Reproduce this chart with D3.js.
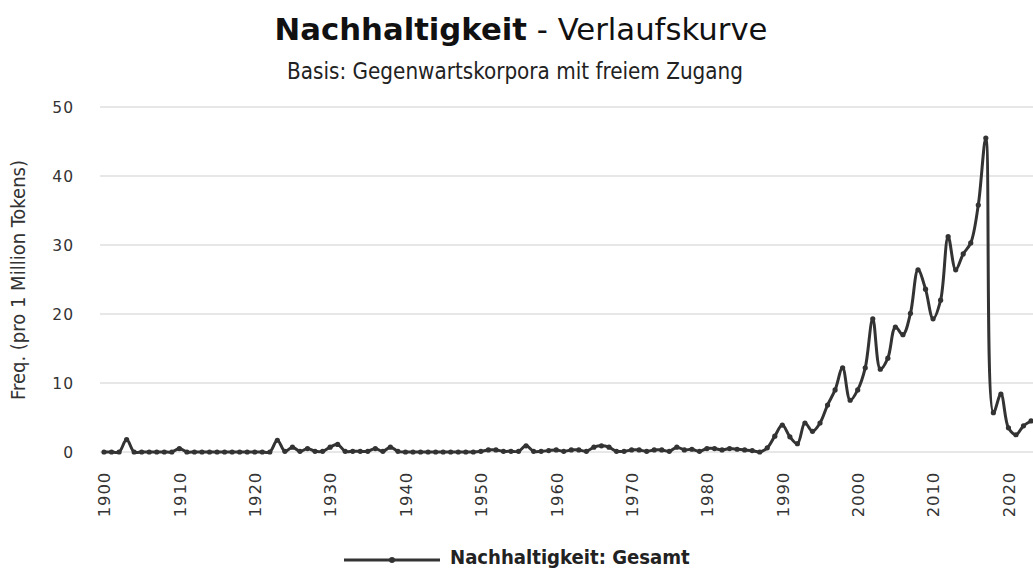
<!DOCTYPE html>
<html><head><meta charset="utf-8">
<script src="https://cdn.jsdelivr.net/npm/d3@7"></script>
<style>body{margin:0;background:#fff}svg{display:block}</style>
</head><body>
<svg id="c" width="1033" height="569"></svg>
<script>
const years = d3.range(1900, 2024);
const values = [
  0,0,0,1.8,0,0,0,0,0,0,           // 1900-1909
  0.5,0,0,0,0,0,0,0,0,0,           // 1910-1919
  0,0,0,1.7,0.1,0.7,0.1,0.5,0.1,0.1, // 1920-1929
  0.7,1.1,0.1,0.1,0.1,0.1,0.5,0.1,0.7,0.1, // 1930-1939
  0,0,0,0,0,0,0,0,0,0,             // 1940-1949
  0.1,0.3,0.3,0.1,0.1,0.1,0.9,0.1,0.1,0.2, // 1950-1959
  0.3,0.1,0.3,0.3,0.1,0.7,0.9,0.7,0.1,0.1, // 1960-1969
  0.3,0.3,0.1,0.3,0.3,0.1,0.7,0.3,0.4,0.1, // 1970-1979
  0.5,0.5,0.3,0.5,0.4,0.3,0.2,0.0,0.6,2.3, // 1980-1989
  3.9,2.2,1.2,4.2,3.0,4.2,6.8,9.0,12.2,7.5, // 1990-1999
  9.0,12.2,19.3,12.0,13.6,18.1,17.0,20.1,26.4,23.6, // 2000-2009
  19.3,22.0,31.2,26.4,28.7,30.3,35.8,45.5,5.7,8.4, // 2010-2019
  3.5,2.5,3.8,4.5                  // 2020-2023
];
const yTicks = [0,10,20,30,40,50];
const xTicks = d3.range(1900, 2021, 10);
const title = "Nachhaltigkeit";
const titleRest = " - Verlaufskurve";
const subtitle = "Basis: Gegenwartskorpora mit freiem Zugang";
const yTitle = "Freq. (pro 1 Million Tokens)";
const seriesName = "Nachhaltigkeit: Gesamt";

const data = years.map((y,i)=>({year:y, v:values[i]}));
const svg = d3.select("#c");
const x = d3.scaleLinear().domain([1900, 2023]).range([104, 104 + 123*7.537]);
const y = d3.scaleLinear().domain([0, 50]).range([452, 107]);

function fitSize(sel, target){
  const fs = +sel.attr("font-size");
  const w = sel.node().getComputedTextLength();
  sel.attr("font-size", fs * target / w);
}

// gridlines
svg.append("g").selectAll("line").data(yTicks).join("line")
  .attr("x1", 100).attr("x2", 1033)
  .attr("y1", d=>y(d)).attr("y2", d=>y(d))
  .attr("stroke", "#d0d0d0").attr("stroke-width", 1.2);

// y axis labels
const yAxis = d3.axisLeft(y).tickValues(yTicks).tickSize(0).tickPadding(0);
const gy = svg.append("g").attr("transform","translate(74,0)").call(yAxis);
gy.select(".domain").remove();
gy.selectAll("text").attr("font-family","DejaVu Sans").attr("font-size",15.5)
  .attr("fill","#333").attr("letter-spacing","1px").attr("dy","0.35em");

// x axis labels
const xAxis = d3.axisBottom(x).tickValues(xTicks).tickSize(0).tickFormat(d3.format("d"));
const gx = svg.append("g").attr("transform","translate(0,472)").call(xAxis);
gx.select(".domain").remove();
gx.selectAll("text")
  .attr("font-family","DejaVu Sans").attr("font-size",16.5).attr("fill","#333")
  .attr("letter-spacing","0.8px")
  .attr("text-anchor","end")
  .attr("x",0).attr("y",0).attr("dy","0.35em")
  .attr("transform","rotate(-90)");

// line
const line = d3.line().x(d=>x(d.year)).y(d=>y(d.v)).curve(d3.curveCatmullRom.alpha(0.5));
svg.append("path").datum(data).attr("d", line)
  .attr("fill","none").attr("stroke","#333").attr("stroke-width",3)
  .attr("stroke-linejoin","round");
svg.append("g").selectAll("circle").data(data).join("circle")
  .attr("cx", d=>x(d.year)).attr("cy", d=>y(d.v)).attr("r", 2.6).attr("fill","#333");

// title
const t = svg.append("text").attr("x", 521).attr("y", 40).attr("text-anchor","middle")
  .attr("font-family","DejaVu Sans").attr("font-size",27).attr("fill","#111");
t.append("tspan").attr("font-weight","bold").text(title);
t.append("tspan").text(titleRest);
fitSize(t, 493);

const st = svg.append("text").attr("x", 515).attr("y", 79).attr("text-anchor","middle")
  .attr("font-family","DejaVu Sans Condensed, DejaVu Sans").attr("font-size",17).attr("fill","#222")
  .text(subtitle);
fitSize(st, 456);

// y title
const yt = svg.append("text").attr("transform","translate(25,280) rotate(-90)").attr("text-anchor","middle")
  .attr("font-family","Liberation Sans Narrow, DejaVu Sans Condensed").attr("font-size",18).attr("fill","#333")
  .text(yTitle);
fitSize(yt, 240);

// legend
const lg = svg.append("g");
lg.append("line").attr("x1",344).attr("x2",440).attr("y1",560).attr("y2",560)
  .attr("stroke","#333").attr("stroke-width",3);
lg.append("circle").attr("cx",392).attr("cy",560).attr("r",3).attr("fill","#333");
const lt = lg.append("text").attr("x",450).attr("y",564)
  .attr("font-family","DejaVu Sans Condensed, DejaVu Sans").attr("font-weight","bold")
  .attr("font-size",17).attr("fill","#222").text(seriesName);
fitSize(lt, 240);
</script>
</body></html>
